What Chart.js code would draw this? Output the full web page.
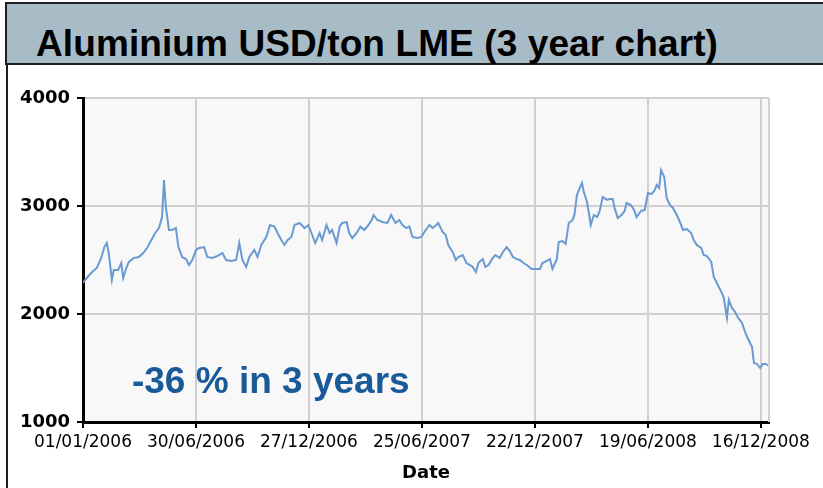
<!DOCTYPE html>
<html>
<head>
<meta charset="UTF-8" />
<script src="https://cdn.jsdelivr.net/npm/chart.js"></script>
<style>
  html, body { margin: 0; padding: 0; background: #fff; overflow: hidden; }
  body { width: 823px; height: 488px; position: relative; }
  .band {
    position: absolute; left: 5px; top: 2px; width: 840px; height: 59px;
    background: #a8bcc8; border: 2px solid #1e1e1e; box-sizing: content-box;
  }
  .band h1 {
    margin: 0; position: absolute; left: 29px; top: 20px;
    font: bold 37px "Liberation Sans", Arial, sans-serif; color: #000;
    white-space: nowrap; line-height: 40px; letter-spacing: 0.1px;
  }
  .leftline { position: absolute; left: 6px; top: 63px; width: 2px; height: 430px; background: #1e1e1e; }
  .chart-box { position: absolute; left: 8px; top: 66px; width: 815px; height: 422px; }
</style>
</head>
<body>
<div class="band"><h1>Aluminium USD/ton LME (3 year chart)</h1></div>
<div class="leftline"></div>
<div class="chart-box"><canvas id="alu"></canvas></div>
<script>
// dagen sinds 01/01/2006
const days = [0, 10, 18, 22, 29, 34, 38, 41, 46, 49, 56, 61, 64, 69, 73, 81, 89, 96, 102, 109,
  115, 121, 126, 129, 132, 137, 142, 148, 152, 158, 164, 169, 174, 180, 185, 193, 198, 206, 214, 222,
  228, 236, 244, 249, 254, 260, 265, 273, 278, 284, 292, 298, 305, 310, 316, 321, 326, 332, 337, 345,
  353, 359, 364, 370, 377, 381, 388, 393, 397, 404, 409, 413, 420, 424, 429, 436, 442, 448, 453, 460,
  463, 469, 477, 485, 491, 498, 504, 509, 515, 520, 525, 533, 539, 546, 552, 557, 563, 566, 573, 578,
  582, 589, 594, 598, 605, 611, 616, 621, 626, 630, 637, 641, 646, 653, 657, 664, 669, 675, 680, 685,
  691, 696, 702, 707, 715, 721, 728, 732, 739, 744, 748, 755, 758, 764, 769, 774, 780, 783, 787, 790,
  795, 798, 803, 806, 809, 814, 819, 823, 828, 835, 839, 844, 847, 852, 858, 863, 866, 873, 878, 882,
  889, 895, 900, 906, 911, 914, 918, 921, 926, 930, 935, 940, 946, 951, 956, 962, 969, 973, 978, 985,
  989, 994, 1001, 1005, 1010, 1013, 1018, 1021, 1026, 1029, 1034, 1039, 1043, 1050, 1055, 1059, 1066, 1069, 1074, 1079,
  1083, 1088, 1093];

// prijs in USD/ton
const prices = [2290, 2361, 2407, 2426, 2519, 2620, 2657, 2565, 2315, 2407, 2407, 2472, 2333, 2426, 2482, 2519, 2528, 2565, 2611, 2685,
  2750, 2796, 2898, 3241, 2991, 2778, 2778, 2796, 2620, 2528, 2509, 2454, 2500, 2593, 2611, 2620, 2528, 2519, 2537, 2565,
  2500, 2491, 2500, 2657, 2500, 2435, 2528, 2593, 2528, 2639, 2713, 2824, 2810, 2750, 2685, 2639, 2685, 2713, 2824, 2843,
  2796, 2824, 2750, 2657, 2750, 2685, 2824, 2750, 2778, 2657, 2810, 2843, 2852, 2750, 2704, 2750, 2810, 2778, 2810, 2870,
  2917, 2870, 2852, 2843, 2917, 2843, 2870, 2824, 2796, 2810, 2713, 2704, 2713, 2778, 2824, 2796, 2824, 2843, 2759, 2731,
  2639, 2574, 2500, 2528, 2546, 2472, 2454, 2435, 2389, 2472, 2509, 2435, 2454, 2519, 2546, 2519, 2574, 2620, 2583, 2528,
  2509, 2500, 2472, 2454, 2417, 2417, 2417, 2472, 2491, 2509, 2417, 2509, 2667, 2676, 2648, 2843, 2870, 2917, 3102, 3148,
  3213, 3130, 3037, 2935, 2824, 2917, 2898, 2950, 3083, 3056, 3065, 3065, 2982, 2889, 2917, 2954, 3028, 3009, 2963, 2898,
  2954, 2963, 3120, 3111, 3148, 3195, 3167, 3333, 3269, 3074, 3009, 2982, 2917, 2852, 2778, 2787, 2750, 2685, 2639, 2611,
  2546, 2537, 2482, 2343, 2287, 2250, 2194, 2148, 1963, 2130, 2056, 2019, 1972, 1917, 1833, 1778, 1694, 1546, 1537, 1500,
  1537, 1537, 1519];

const xTickDays = [0, 180, 360, 540, 720, 900, 1080];
const xTickLabels = ['01/01/2006', '30/06/2006', '27/12/2006', '25/06/2007', '22/12/2007', '19/06/2008', '16/12/2008'];
const yTicks = [1000, 2000, 3000, 4000];

const noteText = '-36 % in 3 years';
const noteDay = 78;      // linkerkant van de tekst
const noteValue = 1360;  // midden van de tekst

const plotBg = {
  id: 'plotBg',
  beforeDraw(chart) {
    const { ctx, chartArea: a } = chart;
    ctx.save();
    ctx.fillStyle = '#f8f8f8';
    ctx.fillRect(a.left, a.top, a.right - a.left, a.bottom - a.top);
    ctx.restore();
  },
  afterDatasetsDraw(chart) {
    const { ctx, chartArea: a, scales } = chart;
    ctx.save();
    // rechterrand
    ctx.strokeStyle = '#d0d0d0';
    ctx.lineWidth = 2;
    ctx.beginPath();
    ctx.moveTo(a.right, a.top);
    ctx.lineTo(a.right, a.bottom);
    ctx.stroke();
    // tekst
    ctx.fillStyle = '#195a99';
    ctx.font = 'bold 37px "Liberation Sans", Arial, sans-serif';
    ctx.textBaseline = 'middle';
    ctx.fillText(noteText, scales.x.getPixelForValue(noteDay), scales.y.getPixelForValue(noteValue));
    ctx.restore();
  }
};

new Chart(document.getElementById('alu'), {
  type: 'line',
  data: {
    datasets: [{
      data: days.map((d, i) => ({ x: d, y: prices[i] })),
      borderColor: '#6a9ad2',
      borderWidth: 2,
      pointRadius: 0,
      tension: 0,
    }],
  },
  options: {
    responsive: true,
    maintainAspectRatio: false,
    animation: false,
    layout: { padding: { top: 32, right: 54, left: 0, bottom: 0 } },
    plugins: { legend: { display: false }, tooltip: { enabled: false } },
    scales: {
      x: {
        type: 'linear',
        min: 0,
        max: 1093,
        afterBuildTicks: (s) => { s.ticks = xTickDays.map(v => ({ value: v })); },
        afterFit: (s) => { s.height = 66; },
        border: { color: '#000', width: 3 },
        grid: { color: '#d0d0d0', lineWidth: 2, tickLength: 6, tickColor: '#000', tickWidth: 2 },
        ticks: {
          maxRotation: 0,
          autoSkip: false,
          padding: 4,
          color: '#000',
          font: { family: 'DejaVu Sans', size: 17 },
          callback: (v) => xTickLabels[xTickDays.indexOf(v)],
        },
        title: {
          display: true,
          text: 'Date',
          color: '#000',
          font: { family: 'DejaVu Sans', size: 18, weight: 'bold' },
          padding: { top: 2 },
        },
      },
      y: {
        min: 1000,
        max: 4000,
        afterBuildTicks: (s) => { s.ticks = yTicks.map(v => ({ value: v })); },
        afterFit: (s) => { s.width = 75; },
        border: { color: '#000', width: 3 },
        grid: { color: '#d0d0d0', lineWidth: 2, tickLength: 6, tickColor: '#000', tickWidth: 2 },
        ticks: {
          padding: 7,
          color: '#000',
          font: { family: 'DejaVu Sans', size: 18, weight: 'bold' },
          callback: (v) => String(v),
        },
      },
    },
  },
  plugins: [plotBg],
});
</script>
</body>
</html>
